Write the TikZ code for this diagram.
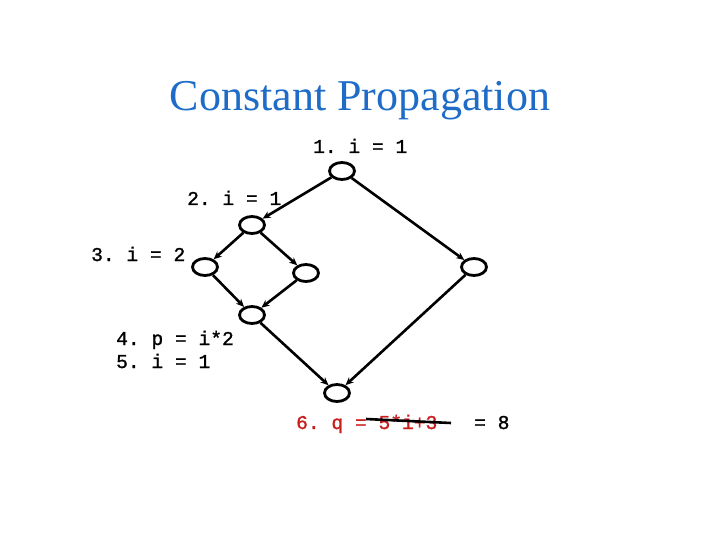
\documentclass[tikz,border=0pt]{standalone}
\usepackage{fontspec}
\setmainfont{Liberation Serif}
\setmonofont{Liberation Mono}[BoldFont={Liberation Mono}, BoldFeatures={FakeBold=1.2}]
\usetikzlibrary{shapes.geometric,arrows.meta}
\definecolor{titleblue}{RGB}{30,108,200}
\definecolor{codered}{RGB}{200,30,30}

\begin{document}
\begin{tikzpicture}[x=1pt,y=-1pt]
			\tikzstyle{bb}=[ellipse, draw, line width=2.8pt, minimum width=25pt, minimum height=17pt, inner sep=0pt]
			\tikzstyle{code}=[font=\ttfamily\bfseries\fontsize{19.6}{23}\selectfont, inner sep=0pt, anchor=base west]
			\tikzstyle{edge}=[line width=2.6pt, -{Stealth[length=8pt,width=7pt]}]
			\useasboundingbox (0,0) rectangle (720,540);
			\node[font=\fontsize{44}{50}\selectfont, text=titleblue, anchor=base] (title) at (360,111) {Constant Propagation};
			% basic blocks
			\node[bb] (b1) at (342,171) {};
			\node[bb] (b2) at (252,225) {};
			\node[bb] (b3) at (205,267) {};
			\node[bb] (b4) at (306,273) {};
			\node[bb] (b5) at (474,267) {};
			\node[bb] (b6) at (252,315) {};
			\node[bb] (b7) at (337,393) {};
			% statements
			\node[code] (s1) at (313,153) {1. i = 1};
			\node[code] (s2) at (187,205) {2. i = 1};
			\node[code] (s3) at (91,261) {3. i = 2};
			\node[code] (s4) at (116,345) {4. p = i*2};
			\node[code] (s5) at (116,368) {5. i = 1};
			\node[code, text=codered] (s6) at (296,429) {6. q = 5*i+3};
			\node[code] (res) at (474,429) {= 8};
			\coordinate (x1) at (366,419);
			\coordinate (x2) at (451,423);
			% flow edges
			\draw[edge] (b1) -- (b2);
			\draw[edge] (b1) -- (b5);
			\draw[edge] (b2) -- (b3);
			\draw[edge] (b2) -- (b4);
			\draw[edge] (b3) -- (b6);
			\draw[edge] (b4) -- (b6);
			\draw[edge] (b6) -- (b7);
			\draw[edge] (b5) -- (b7);
			\draw[line width=2.6pt] (x1) -- (x2);
		\end{tikzpicture}
\end{document}
